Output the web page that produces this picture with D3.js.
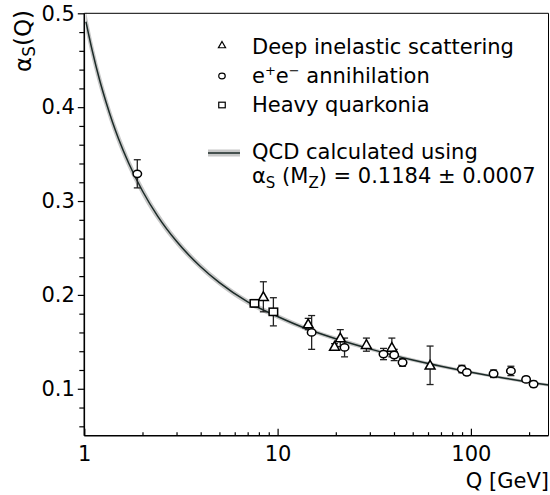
<!DOCTYPE html>
<html>
<head>
<meta charset="utf-8">
<script src="https://cdn.jsdelivr.net/npm/d3@7"></script>
<style>
  body { margin: 0; background: #fff; }
  svg { display: block; font-family: "DejaVu Sans", sans-serif; }
</style>
</head>
<body>
<script>
const w = 550;
const h = 495;

// QCD running coupling curve
const curveQ = [1.02, 1.1, 1.2, 1.3, 1.4, 1.5, 1.7, 2, 2.4, 3, 4, 5, 7, 10, 14, 20, 30, 50, 70, 100, 150, 200, 252];
const curveA = [0.491, 0.460, 0.429, 0.4045, 0.384, 0.367, 0.340, 0.3107, 0.2837, 0.2571, 0.230, 0.2131, 0.1926, 0.177, 0.1642, 0.1533, 0.1425, 0.1306, 0.124, 0.1176, 0.1112, 0.107, 0.1039];
const bandHalf = [0.011, 0.010, 0.009, 0.008, 0.0075, 0.007, 0.0062, 0.0055, 0.0048, 0.0042, 0.0036, 0.0033, 0.003, 0.0027, 0.0025, 0.0023, 0.0021, 0.0019, 0.0018, 0.0017, 0.0016, 0.0016, 0.0016];

// deep inelastic scattering (triangles)
const disQ = [8.44, 14.4, 19.7, 21.1, 28.8, 39.0, 61.5];
const disA = [0.198, 0.169, 0.145, 0.154, 0.147, 0.144, 0.125];
const disE = [0.016, 0.006, 0.003, 0.009, 0.007, 0.010, 0.0205];

// e+e- annihilation (circles)
const eeQ = [1.88, 15.0, 22.2, 35.3, 40.1, 44.3, 89.8, 95.3, 131, 161, 193, 211];
const eeA = [0.329, 0.160, 0.144, 0.137, 0.136, 0.128, 0.121, 0.1175, 0.116, 0.119, 0.110, 0.105];
const eeE = [0.015, 0.018, 0.010, 0.006, 0.006, 0.004, 0.004, 0.003, 0.004, 0.005, 0.003, 0.003];

// heavy quarkonia (squares)
const hqQ = [7.59, 9.51];
const hqA = [0.191, 0.182];
const hqE = [0.004, 0.015];

const xTicks = [1, 10, 100];
const xMinor = [2, 3, 4, 5, 6, 7, 8, 9, 20, 30, 40, 50, 60, 70, 80, 90, 200];
const yTicks = [0.1, 0.2, 0.3, 0.4, 0.5];
const yMinor = [0.06, 0.08, 0.12, 0.14, 0.16, 0.18, 0.22, 0.24, 0.26, 0.28, 0.32, 0.34, 0.36, 0.38, 0.42, 0.44, 0.46, 0.48];

const pLeft = 84.3, pRight = 548.5, pTop = 13.3, pBottom = 435.7;

const svg = d3.select("body").append("svg").attr("width", w).attr("height", h);

const x = d3.scaleLog().domain([1, 252]).range([pLeft, pRight]);
const y = d3.scaleLinear().domain([0.05, 0.5]).range([pBottom, pTop]);

// uncertainty band
const band = d3.area()
  .x((d, i) => x(curveQ[i]))
  .y0((d, i) => y(curveA[i] - bandHalf[i]))
  .y1((d, i) => y(curveA[i] + bandHalf[i]))
  .curve(d3.curveMonotoneX);
svg.append("path").datum(curveQ).attr("d", band).attr("fill", "#c8c8c8");

const line = d3.line()
  .x((d, i) => x(curveQ[i]))
  .y((d, i) => y(curveA[i]))
  .curve(d3.curveMonotoneX);
svg.append("path").datum(curveQ).attr("d", line)
  .attr("fill", "none").attr("stroke", "#1b2a27").attr("stroke-width", 1.5);

// error bars
function errorBars(qs, as, es) {
  const g = svg.append("g").attr("stroke", "#222").attr("stroke-width", 1.3).attr("fill", "none");
  qs.forEach((q, i) => {
    const cx = x(q), y0 = y(as[i] - es[i]), y1 = y(as[i] + es[i]);
    g.append("line").attr("x1", cx).attr("x2", cx).attr("y1", y0).attr("y2", y1);
    g.append("line").attr("x1", cx - 3.5).attr("x2", cx + 3.5).attr("y1", y0).attr("y2", y0);
    g.append("line").attr("x1", cx - 3.5).attr("x2", cx + 3.5).attr("y1", y1).attr("y2", y1);
  });
}
errorBars(disQ, disA, disE);
errorBars(eeQ, eeA, eeE);
errorBars(hqQ, hqA, hqE);

function triangle(g, cx, cy, s) {
  g.append("path")
    .attr("d", `M${cx},${cy - s * 0.55}L${cx + s * 0.55},${cy + s * 0.42}L${cx - s * 0.55},${cy + s * 0.42}Z`);
}
function circle(g, cx, cy, s) {
  g.append("ellipse").attr("cx", cx).attr("cy", cy).attr("rx", s * 0.5).attr("ry", s * 0.43);
}
function square(g, cx, cy, s) {
  g.append("rect").attr("x", cx - s * 0.5).attr("y", cy - s * 0.43).attr("width", s).attr("height", s * 0.86);
}

const marks = svg.append("g").attr("fill", "#fff").attr("stroke", "#000").attr("stroke-width", 1.5);
disQ.forEach((q, i) => triangle(marks, x(q), y(disA[i]), 9));
eeQ.forEach((q, i) => circle(marks, x(q), y(eeA[i]), 8.5));
hqQ.forEach((q, i) => square(marks, x(q), y(hqA[i]), 8.5));

// axes
const xMinorAxis = d3.axisBottom(x).tickValues(xMinor).tickSize(-3.5).tickFormat("");
const xAxis = d3.axisBottom(x).tickValues(xTicks).tickSize(-7).tickPadding(10).tickFormat(d3.format("d"));
const yMinorAxis = d3.axisLeft(y).tickValues(yMinor).tickSize(5).tickFormat("");
const yAxis = d3.axisLeft(y).tickValues(yTicks).tickSize(6.5).tickPadding(3).tickFormat(d3.format(".1f"));

function styleAxis(g) {
  g.select(".domain").remove();
  g.selectAll("line").attr("stroke", "#000").attr("stroke-width", 1.2);
  g.selectAll("text").attr("fill", "#000").style("font-size", "21px").style("font-family", "DejaVu Sans");
}

svg.append("g").attr("transform", `translate(0,${pBottom})`).call(xMinorAxis).call(styleAxis);
svg.append("g").attr("transform", `translate(0,${pBottom})`).call(xAxis).call(styleAxis);
svg.append("g").attr("transform", `translate(${pLeft},0)`).call(yMinorAxis).call(styleAxis);
svg.append("g").attr("transform", `translate(${pLeft},0)`).call(yAxis).call(styleAxis);

// frame
svg.append("line").attr("x1", pLeft).attr("x2", pRight).attr("y1", pBottom).attr("y2", pBottom)
  .attr("stroke", "#000").attr("stroke-width", 1.6);
svg.append("line").attr("x1", pLeft).attr("x2", pLeft).attr("y1", pTop).attr("y2", pBottom)
  .attr("stroke", "#000").attr("stroke-width", 1.6);
svg.append("path").attr("d", `M${pLeft},${pTop}H${pRight}V${pBottom}`)
  .attr("fill", "none").attr("stroke", "#000").attr("stroke-width", 1);

// axis titles
svg.append("text").attr("x", 549).attr("y", 488).attr("text-anchor", "end")
  .style("font-size", "21px").text("Q [GeV]");

const yt = svg.append("text").attr("transform", "translate(31,10) rotate(-90)")
  .attr("text-anchor", "end").style("font-size", "23px");
yt.append("tspan").text("α");
yt.append("tspan").attr("dy", 4).style("font-size", "17px").text("S");
yt.append("tspan").attr("dy", -4).text("(Q)");

// legend
const lg = svg.append("g");
const lm = lg.append("g").attr("fill", "#fff").attr("stroke", "#000").attr("stroke-width", 1.2);
triangle(lm, 222, 45, 6.5);
circle(lm, 222, 76, 6.5);
square(lm, 222, 105, 6.5);

lg.append("text").attr("x", 252).attr("y", 54).style("font-size", "21px").text("Deep inelastic scattering");
const t2 = lg.append("text").attr("x", 252).attr("y", 83).style("font-size", "21px");
t2.append("tspan").text("e");
t2.append("tspan").attr("dy", -8).style("font-size", "13px").text("+");
t2.append("tspan").attr("dy", 8).text("e");
t2.append("tspan").attr("dy", -8).style("font-size", "13px").text("−");
t2.append("tspan").attr("dy", 8).text(" annihilation");
lg.append("text").attr("x", 252).attr("y", 112).style("font-size", "21px").text("Heavy quarkonia");

lg.append("rect").attr("x", 208).attr("y", 149.5).attr("width", 32).attr("height", 7).attr("fill", "#c8c8c8");
lg.append("line").attr("x1", 208).attr("x2", 240).attr("y1", 153).attr("y2", 153)
  .attr("stroke", "#1b2a27").attr("stroke-width", 1.5);
lg.append("text").attr("x", 252).attr("y", 159).style("font-size", "21px").text("QCD calculated using");
const t5 = lg.append("text").attr("x", 252).attr("y", 183).style("font-size", "21px");
t5.append("tspan").text("α");
t5.append("tspan").attr("dy", 5).style("font-size", "15px").text("S");
t5.append("tspan").attr("dy", -5).text(" (M");
t5.append("tspan").attr("dy", 5).style("font-size", "15px").text("Z");
t5.append("tspan").attr("dy", -5).text(") = 0.1184 ± 0.0007");
</script>
</body>
</html>
